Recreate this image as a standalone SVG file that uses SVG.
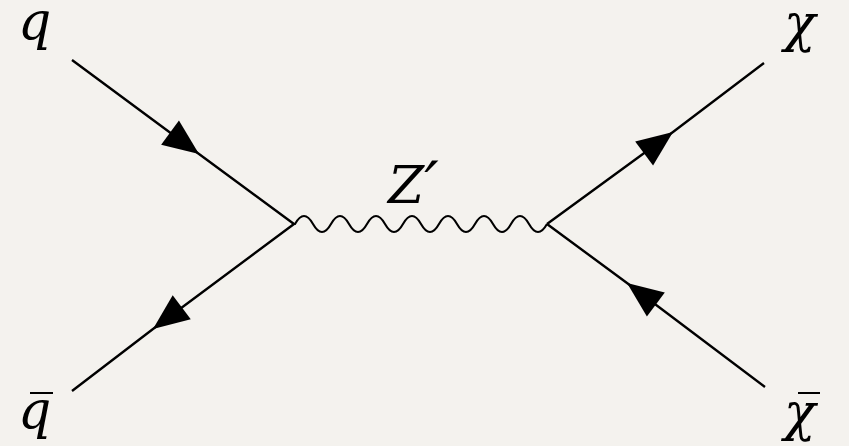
<svg xmlns="http://www.w3.org/2000/svg" width="849" height="446" viewBox="0 0 849 446">
<style>
.lbl{font-family:"DejaVu Serif",serif;font-style:italic;font-size:52px;fill:#000}
.bar{stroke:#000;stroke-width:2}
</style>
<defs>
<marker id="ah" markerUnits="userSpaceOnUse" viewBox="-38 -17 40 34" markerWidth="40" markerHeight="34" refX="0" refY="0" orient="auto">
<path d="M0,0 L-36,-15 L-36,15 z" fill="#000"/>
</marker>
</defs>
<rect width="849" height="446" fill="#f4f2ee"/>
<g id="connectors" fill="none" stroke="#000" stroke-width="2.4">
<path marker-mid="url(#ah)" d="M72,60 L199,154 L294,224"/>
<path marker-mid="url(#ah)" d="M294,224 L153,329 L72,391"/>
<path marker-mid="url(#ah)" d="M547,224 L673,132 L764,63"/>
<path marker-mid="url(#ah)" d="M765,387 L627,283 L547,224"/>
<path stroke-width="2.1" d="M294,224 h1 q9,-16 18,0 t18,0 t18,0 t18,0 t18,0 t18,0 t18,0 t18,0 t18,0 t18,0 t18,0 t18,0 t18,0 t18,0"/>
</g>
<g id="q"><text class="lbl" x="18" y="39">q</text></g>
<g id="qbar"><text class="lbl" x="18" y="428">q</text><line class="bar" x1="30" y1="393" x2="53" y2="393"/></g>
<g id="chi"><text class="lbl" x="784" y="41">χ</text></g>
<g id="chibar"><text class="lbl" x="784" y="430">χ</text><line class="bar" x1="798" y1="393" x2="820" y2="393"/></g>
<g id="zprime"><text class="lbl" x="388" y="203">Z<tspan font-size="64" dy="4">′</tspan></text></g>
</svg>
